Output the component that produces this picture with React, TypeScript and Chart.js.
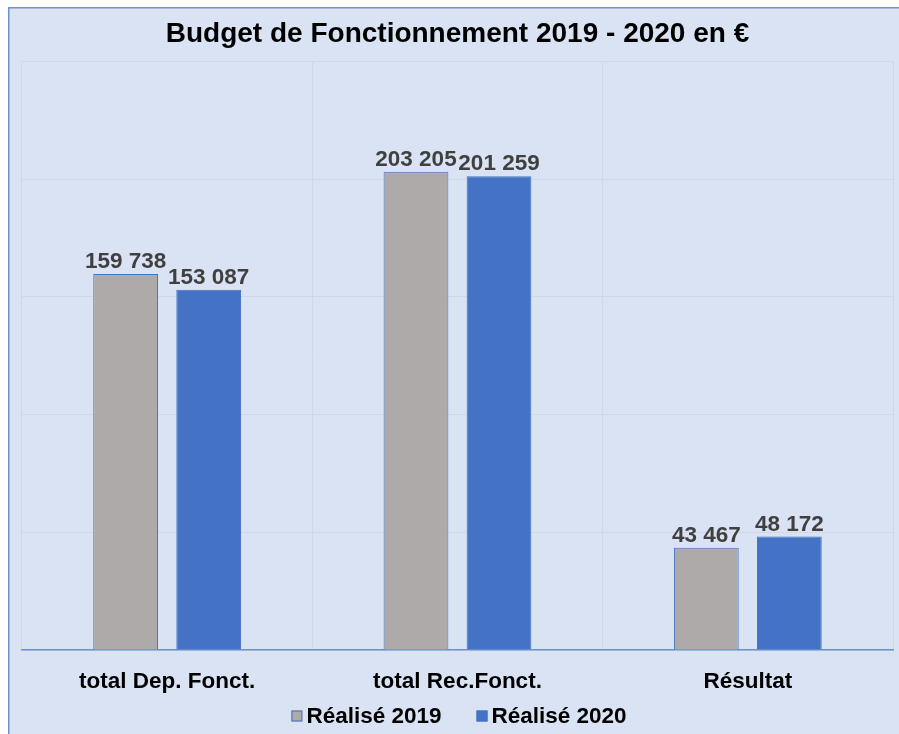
import React, { useEffect, useRef } from "react";
import { Chart, registerables } from "chart.js";

Chart.register(...registerables);

const categories = ["total Dep. Fonct.", "total Rec.Fonct.", "Résultat"];
const realise2019 = [159738, 203205, 43467];
const realise2020 = [153087, 201259, 48172];
const seriesNames = ["Réalisé 2019", "Réalisé 2020"];
const titleText = "Budget de Fonctionnement 2019 - 2020 en €";

const FONT = "'Liberation Sans', Arial, Helvetica, sans-serif";

function fmt(v: number): string {
  return String(v).replace(/\B(?=(\d{3})+(?!\d))/g, " ");
}

const bgPlugin = {
  id: "bgPlugin",
  beforeDraw(chart: any) {
    const { ctx, width, height } = chart;
    ctx.save();
    ctx.fillStyle = "#dae3f3";
    ctx.fillRect(0, 0, width, height);
    ctx.strokeStyle = "#6f8fd0";
    ctx.lineWidth = 1.5;
    ctx.beginPath();
    ctx.moveTo(0.75, height);
    ctx.lineTo(0.75, 0.75);
    ctx.lineTo(width, 0.75);
    ctx.stroke();
    ctx.restore();
  },
};

const labelPlugin = {
  id: "labelPlugin",
  afterDatasetsDraw(chart: any) {
    const { ctx } = chart;
    ctx.save();
    ctx.font = `bold 22.5px ${FONT}`;
    ctx.fillStyle = "#404040";
    ctx.textAlign = "center";
    ctx.textBaseline = "bottom";
    chart.data.datasets.forEach((ds: any, i: number) => {
      const meta = chart.getDatasetMeta(i);
      meta.data.forEach((el: any, j: number) => {
        ctx.fillText(fmt(ds.data[j]), el.x, el.y - 1);
      });
    });
    ctx.restore();
  },
};

const legendPlugin = {
  id: "customLegend",
  afterDraw(chart: any) {
    const { ctx, width } = chart;
    const y = 709;
    const box = 11;
    const textGap = 4;
    const itemGap = 35;
    ctx.save();
    ctx.font = `bold 22.5px ${FONT}`;
    ctx.textBaseline = "middle";
    ctx.textAlign = "left";
    const items = chart.data.datasets.map((ds: any) => ({
      label: ds.label,
      fill: ds.backgroundColor,
      stroke: ds.borderColor,
      w: ctx.measureText(ds.label).width,
    }));
    let total = 0;
    items.forEach((it: any, i: number) => {
      total += box + textGap + it.w + (i < items.length - 1 ? itemGap : 0);
    });
    let x = width / 2 + 1.5 - total / 2;
    items.forEach((it: any) => {
      ctx.fillStyle = it.fill;
      ctx.fillRect(x, y - box / 2, box, box);
      ctx.strokeStyle = it.stroke;
      ctx.lineWidth = 1;
      ctx.strokeRect(x + 0.5, y - box / 2 + 0.5, box - 1, box - 1);
      ctx.fillStyle = "#000000";
      ctx.fillText(it.label, x + box + textGap, y + 1);
      x += box + textGap + it.w + itemGap;
    });
    ctx.restore();
  },
};

export default function App() {
  const ref = useRef<HTMLCanvasElement>(null);
  useEffect(() => {
    if (!ref.current) return;
    const chart = new Chart(ref.current, {
      type: "bar",
      data: {
        labels: categories,
        datasets: [
          {
            label: seriesNames[0],
            data: realise2019,
            backgroundColor: "#aeaaaa",
            borderColor: "#4472c4",
            borderWidth: 1,
            categoryPercentage: 0.572,
            barPercentage: 0.78,
          },
          {
            label: seriesNames[1],
            data: realise2020,
            backgroundColor: "#4472c4",
            borderColor: "#4472c4",
            borderWidth: 1,
            categoryPercentage: 0.572,
            barPercentage: 0.78,
          },
        ],
      },
      options: {
        responsive: false,
        animation: false,
        layout: { padding: { left: 14, right: 14, top: 0, bottom: 19.5 } },
        plugins: {
          title: {
            display: true,
            text: titleText,
            color: "#000000",
            font: { family: FONT, size: 28, weight: "bold" },
            padding: { top: 10, bottom: 11 },
          },
          legend: { display: false },
          tooltip: { enabled: false },
        },
        scales: {
          x: {
            grid: { color: "#cfd8e6", drawTicks: false, offset: true },
            border: { color: "#6f8fd0", width: 1.5 },
            ticks: {
              color: "#000000",
              font: { family: FONT, size: 22.5, weight: "bold", lineHeight: 1 },
              padding: 21,
            },
          },
          y: {
            min: 0,
            max: 250000,
            ticks: { display: false, stepSize: 50000 },
            grid: { color: "#cfd8e6", drawTicks: false },
            border: { display: false },
          },
        },
      },
      plugins: [bgPlugin, labelPlugin, legendPlugin],
    });
    return () => chart.destroy();
  }, []);
  return (
    <canvas
      ref={ref}
      width={899}
      height={727}
      style={{ position: "fixed", left: 8, top: 7, display: "block" }}
    />
  );
}
